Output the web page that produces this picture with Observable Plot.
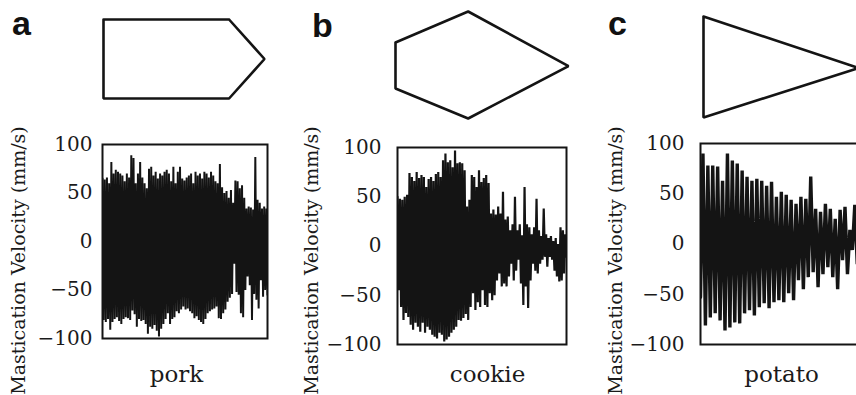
<!DOCTYPE html>
<html>
<head>
<meta charset="utf-8">
<script src="https://cdn.jsdelivr.net/npm/d3@7"></script>
<script src="https://cdn.jsdelivr.net/npm/@observablehq/plot@0.6"></script>
<style>
  html, body { margin: 0; padding: 0; background: #fff; overflow: hidden; }
  #fig { position: relative; width: 856px; height: 395px; overflow: hidden; background: #fff; }
  #fig svg { position: absolute; overflow: visible; }
  .letter { position: absolute; font-family: "Liberation Sans", Arial, sans-serif; font-weight: bold;
            font-size: 34px; line-height: 1; color: #111; }
  g[aria-label="food-name"] text { letter-spacing: 0.8px; }
</style>
</head>
<body>
<div id="fig"></div>
<script>
// ---------------- data ----------------
const panelLetters = ["a", "b", "c"];
const foodNames = ["pork", "cookie", "potato"];
const yLabel = "Mastication Velocity (mm/s)";
const yTicks = [-100, -50, 0, 50, 100];

// mastication velocity (mm/s), alternating peaks/troughs
const porkVelocity = [
  65,-81, 64,-83, 66,-80, 60,-91, 82,-83,
  70,-80, 74,-78, 72,-82, 70,-85, 68,-80,
  62,-78, 70,-79, 66,-81, 89,-71, 86,-75,
  60,-88, 70,-80, 82,-82, 66,-81, 60,-85,
  55,-95, 75,-88, 77,-90, 68,-86, 72,-92,
  65,-98, 70,-90, 68,-85, 72,-80, 74,-74,
  70,-85, 62,-80, 77,-78, 60,-72, 72,-74,
  77,-70, 65,-67, 63,-70, 66,-69, 68,-72,
  70,-74, 60,-79, 72,-77, 68,-81, 70,-83,
  65,-85, 72,-80, 70,-74, 66,-72, 72,-70,
  68,-69, 62,-67, 60,-79, 80,-80, 56,-74,
  50,-70, 52,-62, 45,-58, 53,-54, 40,-23,
  63,-52, 62,-55, 55,-74, 58,-78, 45,-50,
  34,-36, 36,-45, 35,-81, 33,-54, 87,-60,
  43,-69, 40,-40, 34,-57, 36,-50, 34,-55
];

const cookieVelocity = [
  50,-45, 48,-62, 47,-75, 50,-68, 52,-72,
  74,-80, 70,-85, 66,-78, 75,-82, 69,-87,
  72,-78, 70,-88, 60,-82, 68,-85, 70,-90,
  66,-92, 73,-94, 75,-88, 70,-90, 87,-97,
  94,-95, 85,-92, 87,-88, 80,-85, 97,-82,
  84,-75, 85,-76, 84,-73, 77,-69, 40,-75,
  47,-62, 72,-48, 70,-65, 60,-57, 77,-62,
  65,-45, 69,-60, 72,-62, 64,-48, 33,-55,
  37,-50, 32,-35, 40,-28, 33,-41, 55,-38,
  27,-41, 30,-31, 16,-18, 22,-35, 50,-25,
  16,-14, 22,-38, 11,-60, 60,-41, 22,-63,
  19,-35, 12,-18, 19,-25, 48,-28, 16,-18,
  10,-14, 38,-11, 12,-21, 8,-11, 10,-14,
  5,-25, 8,-31, 2,-36, 19,-35, 16,-28,
  12,-11
];

const potatoVelocity = [
  -53, 90, -81, 78, -73, 78, -69, 77, -76, 63,
  -86, 90, -83, 83, -78, 80, -79, 73, -69, 67,
  -66, 63, -71, 65, -63, 63, -59, 58, -64, 62,
  -58, 47, -56, 52, -58, 49, -49, 44, -56, 40,
  -36, 47, -45, 45, -33, 67, -28, 35, -43, 32,
  -30, 40, -23, 35, -33, 25, -45, 34, -16, 37,
  -30, 14, -6, 39, -20, 25, -15, 20, -10, 15
];

// food shapes (normalised outline vertices)
const porkShape = [[0,0],[0.78,0],[1,0.5],[0.78,1],[0,1],[0,0]];
const cookieShape = [[0,0.29],[0.42,0],[1,0.51],[0.42,1],[0,0.72],[0,0.29]];
const potatoShape = [[0,0],[1,0.51],[0,1],[0,0]];

// ---------------- layout ----------------
const series = [porkVelocity, cookieVelocity, potatoVelocity];
const shapes = [porkShape, cookieShape, potatoShape];
const panelLayout = [
  {svgLeft: 0,   svgWidth: 280, fl: 102, fr: 267, ft: 144, fb: 338, pad: 10, labelX: 18,  nameX: 176, lw: 2.0,
   shape: {x0: 103, x1: 264, y0: 19, y1: 98},  letter: {x: 12,  y: 6}},
  {svgLeft: 290, svgWidth: 290, fl: 397, fr: 566, ft: 147, fb: 344, pad: 16, labelX: 311, nameX: 487, lw: 2.2,
   shape: {x0: 395, x1: 568, y0: 11, y1: 118}, letter: {x: 312, y: 8}},
  {svgLeft: 580, svgWidth: 300, fl: 700, fr: 869, ft: 143, fb: 344, pad: 16, labelX: 615, nameX: 781, lw: 3.4,
   shape: {x0: 703, x1: 858, y0: 16, y1: 117}, letter: {x: 608, y: 6}}
];
const svgTop = 120, svgHeight = 275, labelY = 260, nameY = 374;
const ink = "#141414";
const fig = document.getElementById("fig");
const minus = d => d < 0 ? "\u2212" + Math.abs(d) : String(d);

panelLayout.forEach((L, k) => {
  const values = series[k];
  const frameCx = (L.fl + L.fr) / 2, frameCy = (L.ft + L.fb) / 2;
  const chart = Plot.plot({
    width: L.svgWidth,
    height: svgHeight,
    marginLeft: L.fl - L.svgLeft,
    marginRight: L.svgLeft + L.svgWidth - L.fr,
    marginTop: L.ft - svgTop,
    marginBottom: svgTop + svgHeight - L.fb,
    style: {fontFamily: "'DejaVu Serif', serif", fontSize: "20px", color: "#1a1a1a", background: "transparent", overflow: "visible"},
    x: {domain: [0, values.length - 1], axis: null},
    y: {domain: [-100, 100], label: null},
    marks: [
      Plot.axisY({ticks: yTicks, tickSize: 0, tickPadding: L.pad, tickFormat: minus, label: null, fontSize: 20}),
      Plot.line(values, {x: (d, i) => i, y: d => d, stroke: ink, strokeWidth: L.lw, strokeLinejoin: "miter", clip: true}),
      Plot.frame({stroke: ink, strokeWidth: 2}),
      Plot.text([yLabel], {frameAnchor: "left", textAnchor: "middle", lineAnchor: "middle", rotate: -90,
                           dx: L.labelX - L.fl, dy: labelY - frameCy, fontSize: 19, fill: "#1a1a1a"}),
      Plot.text([foodNames[k]], {frameAnchor: "bottom", textAnchor: "middle", lineAnchor: "middle",
                                 dx: L.nameX - frameCx, dy: nameY - L.fb,
                                 fontSize: 23, fill: "#1a1a1a", ariaLabel: "food-name"})
    ]
  });
  chart.style.left = L.svgLeft + "px";
  chart.style.top = svgTop + "px";
  fig.appendChild(chart);

  // food outline
  const S = L.shape, m = 4;
  const outline = shapes[k].concat([shapes[k][1]]);
  const shapePlot = Plot.plot({
    width: S.x1 - S.x0 + 2 * m,
    height: S.y1 - S.y0 + 2 * m,
    margin: m,
    style: {background: "transparent", overflow: "visible"},
    x: {domain: [0, 1], axis: null},
    y: {domain: [0, 1], axis: null, reverse: true},
    marks: [
      Plot.line(outline, {x: d => d[0], y: d => d[1], stroke: ink, strokeWidth: 2.6, strokeLinejoin: "miter"})
    ]
  });
  shapePlot.style.left = (S.x0 - m) + "px";
  shapePlot.style.top = (S.y0 - m) + "px";
  fig.appendChild(shapePlot);

  const letter = document.createElement("div");
  letter.className = "letter";
  letter.textContent = panelLetters[k];
  letter.style.left = L.letter.x + "px";
  letter.style.top = L.letter.y + "px";
  fig.appendChild(letter);
});
</script>
</body>
</html>
